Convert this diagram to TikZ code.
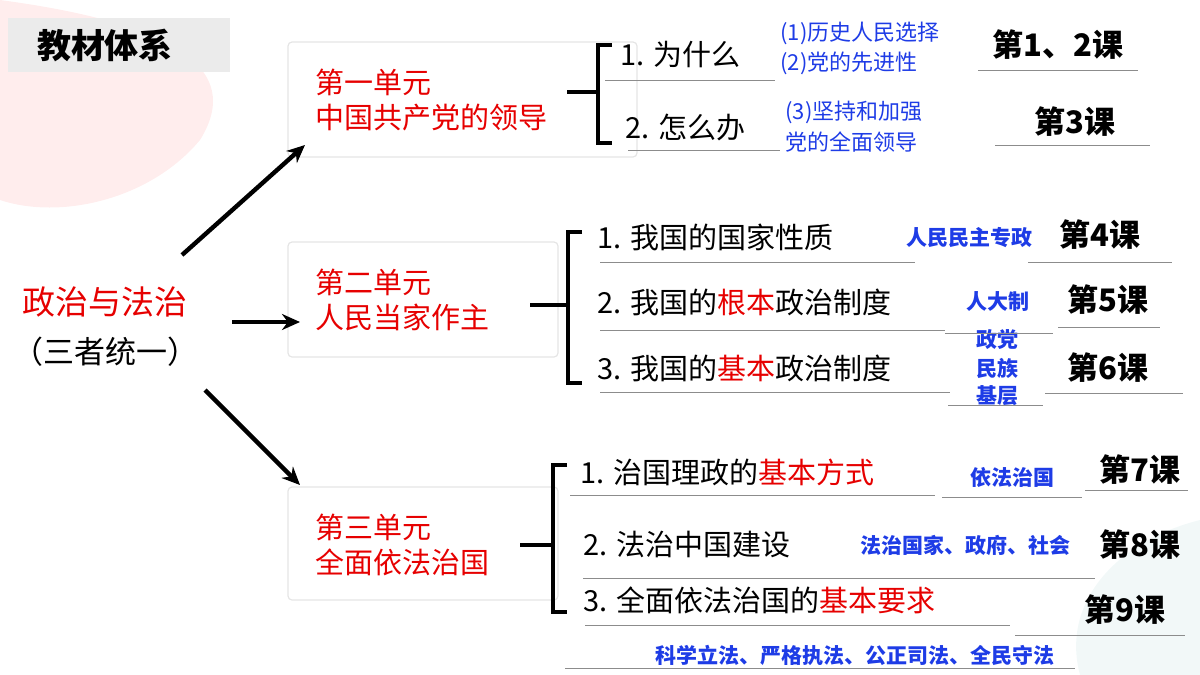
\documentclass[tikz,border=0pt]{standalone}
\usepackage{fontspec}
\setmainfont{Noto Sans CJK SC}
\usetikzlibrary{arrows.meta}
\definecolor{bl}{RGB}{30,60,230}
\definecolor{rd}{RGB}{230,0,0}
\begin{document}
\begin{tikzpicture}[x=0.5pt,y=-0.5pt,
  unit/.style={draw=black!10,rounded corners=2pt,line width=0.6pt},
  ut/.style={anchor=west,text=rd,font=\fontsize{14.5}{17.5}\selectfont,align=left},
  ls/.style={anchor=west,font=\fontsize{14.5}{16}\selectfont,inner sep=0},
  bs/.style={text=bl,font=\fontsize{11}{12}\selectfont,inner sep=0},
  bb/.style={text=bl,font=\fontsize{10.5}{12}\selectfont\bfseries,inner sep=0},
  ks/.style={font=\fontsize{15.5}{17}\selectfont\bfseries,inner sep=0},
  ul/.style={draw=black!45,line width=0.4pt},
  br/.style={line width=2.2pt},
  ar/.style={line width=2.2pt,-{Stealth[length=9pt,width=8pt]}}]
\useasboundingbox (0,0) rectangle (1200,675);
\fill[red!20,opacity=0.35] (0,0) .. controls (150,20) and (250,60) .. (200,140) .. controls (150,200) and (60,220) .. (0,200) -- cycle;
\fill[teal!15,opacity=0.35] (1200,520) .. controls (1120,540) and (1060,600) .. (1080,675) -- (1200,675) -- cycle;
\fill[black!8] (8,18) rectangle (230,72);
\node[font=\fontsize{17}{19}\selectfont\bfseries] (t) at (105,45) {教材体系};
\node[text=rd,font=\fontsize{16.5}{19}\selectfont] (z) at (105,302) {政治与法治};
\node[font=\fontsize{15.5}{19}\selectfont] (z2) at (105,352) {（三者统一）};
\draw[unit] (288,42) rectangle (637,157);
\draw[unit] (288,242) rectangle (558,357);
\draw[unit] (288,487) rectangle (558,600);
\node[ut] (u1) at (308,100) {第一单元\\中国共产党的领导};
\node[ut] (u2) at (308,300) {第二单元\\人民当家作主};
\node[ut] (u3) at (308,545) {第三单元\\全面依法治国};
\coordinate (a1s) at (182,255); \coordinate (a1e) at (305,145);
\coordinate (a2s) at (232,322); \coordinate (a2e) at (300,322);
\coordinate (a3s) at (205,390); \coordinate (a3e) at (300,485);
\draw[ar] (a1s) -- (a1e); \draw[ar] (a2s) -- (a2e); \draw[ar] (a3s) -- (a3e);
% braces
\draw[br] (567,92) -- (598,92) (612,45) -- (598,45) -- (598,143) -- (612,143);
\draw[br] (530,305) -- (568,305) (582,232) -- (568,232) -- (568,383) -- (582,383);
\draw[br] (520,545) -- (553,545) (567,465) -- (553,465) -- (553,612) -- (567,612);
% unit 1
\node[ls] (l11) at (620,55) {1. 为什么};
\node[ls] (l12) at (625,127) {2. 怎么办};
\draw[ul] (605,80) -- (775,80) (628,150) -- (780,150);
\node[bs,anchor=west] at (780,33) {(1)历史人民选择};
\node[bs,anchor=west] at (780,63) {(2)党的先进性};
\node[bs,anchor=west] at (785,112) {(3)坚持和加强};
\node[bs,anchor=west] at (785,142) {党的全面领导};
\node[ks] at (1058,45) {第1、2课};
\node[ks] at (1075,122) {第3课};
\draw[ul] (978,70) -- (1138,70) (995,145) -- (1150,145);
% unit 2
\node[ls] at (597,237) {1. 我国的国家性质};
\node[ls] at (597,302) {2. 我国的\textcolor{rd}{根本}政治制度};
\node[ls] at (597,368) {3. 我国的\textcolor{rd}{基本}政治制度};
\draw[ul] (600,262) -- (915,262) (600,330) -- (945,330) (600,392) -- (950,392);
\node[bb] at (969,238) {人民民主专政};
\node[bb] at (998,302) {人大制};
\node[bb] at (997,340) {政党};
\node[bb] at (997,368) {民族};
\node[bb] at (997,396) {基层};
\draw[ul] (945,333) -- (1053,333) (948,405) -- (1043,405);
\node[ks] at (1100,235) {第4课};
\node[ks] at (1108,300) {第5课};
\node[ks] at (1108,368) {第6课};
\draw[ul] (1028,262) -- (1172,262) (1058,327) -- (1160,327) (1045,393) -- (1183,393);
% unit 3
\node[ls] at (580,472) {1. 治国理政的\textcolor{rd}{基本方式}};
\node[ls] at (583,545) {2. 法治中国建设};
\node[ls] at (583,600) {3. 全面依法治国的\textcolor{rd}{基本要求}};
\draw[ul] (570,495) -- (935,495) (583,578) -- (1095,578) (585,625) -- (1010,625);
\node[bb] at (1012,477) {依法治国};
\node[bb] at (965,545) {法治国家、政府、社会};
\node[bb] at (855,655) {科学立法、严格执法、公正司法、全民守法};
\draw[ul] (942,497) -- (1082,497) (565,668) -- (1075,668);
\node[ks] at (1140,470) {第7课};
\node[ks] at (1140,545) {第8课};
\node[ks] at (1125,610) {第9课};
\draw[ul] (1085,490) -- (1188,490) (1015,635) -- (1185,635);
\end{tikzpicture}
\end{document}
